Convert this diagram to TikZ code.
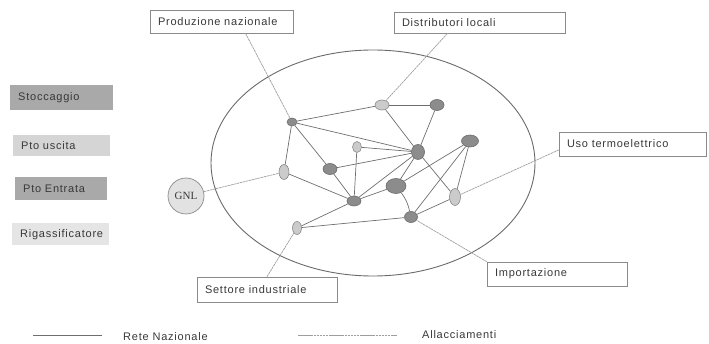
\documentclass[tikz,border=0pt]{standalone}
\usepackage{fontspec}
\setmainfont{Liberation Sans}[LetterSpace=7]
\newfontfamily\gnlfont{Liberation Serif}
\usetikzlibrary{shapes.geometric}
\definecolor{darknode}{HTML}{8C8C8C}
\definecolor{lightnode}{HTML}{CBCBCB}
\definecolor{rimcol}{HTML}{6A6A6A}
\definecolor{netline}{HTML}{6E6E6E}
\definecolor{linkline}{HTML}{9E9E9E}
\definecolor{boxline}{HTML}{8A8A8A}
\definecolor{txt}{HTML}{383838}
\begin{document}
\begin{tikzpicture}[x=1pt,y=-1pt,
  font=\fontsize{11}{13}\selectfont, text=txt,
  hub/.style={ellipse, draw=rimcol, line width=0.6pt, fill=darknode, inner sep=0pt},
  leaf/.style={ellipse, draw=rimcol!80, line width=0.6pt, fill=lightnode, inner sep=0pt},
  net/.style={draw=netline, line width=0.7pt},
  link/.style={draw=linkline, line width=0.7pt, dash pattern=on 2.5pt off 0.6pt},
  labelbox/.style={draw=boxline, line width=0.7pt, fill=white, inner xsep=8pt, inner ysep=0pt, align=left},
  keybox/.style={inner xsep=8pt, inner ysep=0pt, align=left, anchor=north west}]
\useasboundingbox (0,0) rectangle (709,344);

% legend of node kinds
\node[keybox, fill=darknode!75, text width=87pt, minimum height=25pt] (kst) at (10,85) {Stoccaggio};
\node[keybox, fill=lightnode!80, text width=81pt, minimum height=21pt] (kus) at (13,135) {Pto uscita};
\node[keybox, fill=darknode!75, text width=76pt, minimum height=23pt] (ken) at (15,177) {Pto Entrata};
\node[keybox, fill=lightnode!50, text width=81pt, minimum height=22pt] (krg) at (12,223) {Rigassificatore};

% national network boundary
\draw[rimcol, line width=0.9pt] (373,163) ellipse [x radius=162pt, y radius=113pt];

% network nodes
\node[hub,  minimum width=10pt, minimum height=8pt]  (A) at (292,122) {};
\node[leaf, minimum width=14pt, minimum height=10pt] (B) at (382,105) {};
\node[hub,  minimum width=14pt, minimum height=11pt] (C) at (437,105) {};
\node[leaf, minimum width=9pt,  minimum height=11pt] (D) at (357,147) {};
\node[hub,  minimum width=13pt, minimum height=15pt] (E) at (418,152) {};
\node[hub,  minimum width=17pt, minimum height=12pt] (F) at (470,141) {};
\node[leaf, minimum width=10pt, minimum height=15pt] (G) at (284,172) {};
\node[hub,  minimum width=14pt, minimum height=11pt] (H) at (330,169) {};
\node[hub,  minimum width=20pt, minimum height=15pt] (I) at (396,186) {};
\node[leaf, minimum width=11pt, minimum height=17pt] (J) at (455,197) {};
\node[hub,  minimum width=14pt, minimum height=10pt] (K) at (354,201) {};
\node[hub,  minimum width=13pt, minimum height=11pt] (L) at (411,217) {};
\node[leaf, minimum width=9pt,  minimum height=13pt] (M) at (297,228) {};

% pipelines of the national network
\draw[net] (A) -- (B);
\draw[net] (B) -- (C);
\draw[net] (B) -- (E);
\draw[net] (C) -- (E);
\draw[net] (A) -- (E);
\draw[net] (A) -- (H);
\draw[net] (A) -- (G);
\draw[net] (D) -- (E);
\draw[net] (D) -- (K);
\draw[net] (H) -- (E);
\draw[net] (G) -- (K);
\draw[net] (H) -- (K);
\draw[net] (K) -- (E);
\draw[net] (K) -- (I);
\draw[net] (M) -- (K);
\draw[net] (M) -- (L);
\draw[net] (I) to[bend left=12] (L);
\draw[net] (I) -- (F);
\draw[net] (E) -- (I);
\draw[net] (E) -- (J);
\draw[net] (F) -- (L);
\draw[net] (F) -- (J);
\draw[net] (L) -- (J);

% connected parties
\node[labelbox, text width=127pt, minimum height=23pt] (prod) at (221.5,21.5) {Produzione nazionale};
\node[labelbox, text width=155pt, minimum height=21pt] (dist) at (479.5,22.5) {Distributori locali};
\node[labelbox, text width=131pt, minimum height=24pt] (uso)  at (632.5,144) {Uso termoelettrico};
\node[labelbox, text width=124pt, minimum height=24pt] (imp)  at (557,274) {Importazione};
\node[labelbox, text width=124pt, minimum height=25pt] (sett) at (267,289.5) {Settore industriale};
\node[circle, draw=boxline, line width=0.7pt, fill=lightnode!55, minimum size=36pt, inner sep=0pt,
      font=\gnlfont\fontsize{11}{13}\selectfont] (gnl) at (186,196) {GNL};

% connections to the network
\draw[link] ([xshift=24pt]prod.south) -- (A);
\draw[link] ([xshift=-32pt]dist.south) -- (B);
\draw[link] ([yshift=-6pt]uso.west) -- (J);
\draw[link] (imp.north west) -- (L);
\draw[link] (gnl) -- (G);
\draw[link] (sett.north) -- (M);

% line legend
\coordinate (r1) at (33,335);
\coordinate (r2) at (102,335);
\draw[net] (r1) -- (r2);
\node[anchor=west, inner sep=0pt] (rtxt) at (123,337) {Rete Nazionale};
\coordinate (a1) at (298,335);
\coordinate (a2) at (397,335);
\draw[link] (a1) -- (a2);
\node[anchor=west, inner sep=0pt] (atxt) at (422,335) {Allacciamenti};
\end{tikzpicture}
\end{document}
